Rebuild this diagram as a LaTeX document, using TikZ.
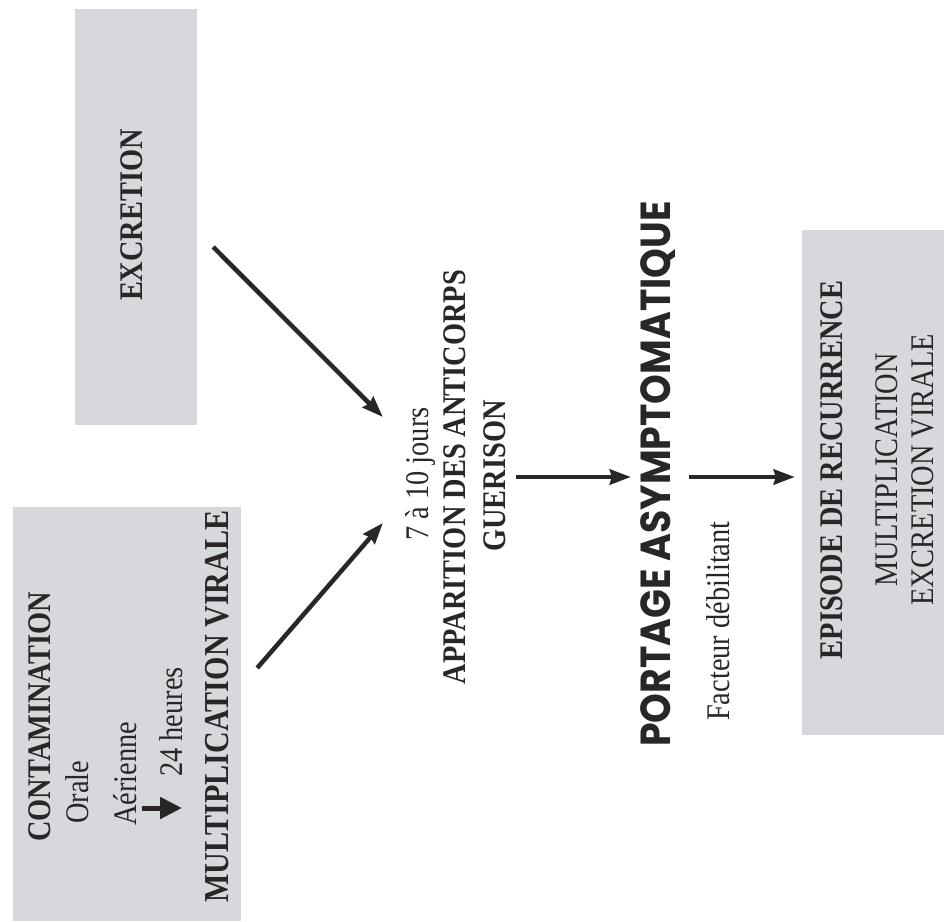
\documentclass[tikz,border=0pt]{standalone}
\usepackage{fontspec}
\usepackage{tikz}
\usetikzlibrary{arrows.meta, calc}

\newfontfamily\narrowfont[FakeStretch=0.86]{Liberation Serif}
\newfontfamily\heavyfont[FakeStretch=0.9]{Poppins}
\definecolor{boxgray}{RGB}{214,216,219}
\definecolor{inkgray}{RGB}{40,38,40}

\begin{document}
\begin{tikzpicture}
  [
    x = 1pt, y = -1pt,  % pixel grid, y down
    every node/.style = {inner sep = 0pt, text = inkgray},
    shade box/.style = {fill = boxgray, draw = none},
    vtext/.style = {rotate = 90, font = \narrowfont\fontsize{33}{38}\selectfont},
    vbold/.style = {vtext, font = \narrowfont\bfseries\fontsize{33}{38}\selectfont},
    flow/.style = {draw = inkgray, line width = 4.5pt,
                   -{Stealth[length = 21pt, width = 15pt, inset = 2pt]}}
  ]
  \useasboundingbox (0,0) rectangle (947,921);

  % grey boxes
  \node [shade box, minimum width = 122pt, minimum height = 416pt] (excr) at (136,217) {};
  \node [shade box, minimum width = 228pt, minimum height = 414pt] (cont) at (127,714) {};
  \node [shade box, minimum width = 142pt, minimum height = 505pt] (rec) at (873,482.5) {};

  % contamination box
  \node [vbold, anchor = base west] (contam) at (50,842) {CONTAMINATION};
  \node [vtext, anchor = base west] (orale) at (88,824) {Orale};
  \node [vtext, anchor = base west] (aer) at (136,826) {Aérienne};
  \node [vtext, anchor = base west] (hrs) at (182,777) {24 heures};
  \node [vbold, anchor = base west, font = \narrowfont\bfseries\fontsize{35}{40}\selectfont]
    (multv) at (228,903) {MULTIPLICATION VIRALE};
  \draw [draw = inkgray, line width = 5pt, -{Stealth[length = 22pt, width = 21pt, inset = 0pt]}]
    ([shift = {(6,-18)}]aer.base west) -- ([shift = {(0,31)}]hrs.base west);

  \node [vbold] (excrlbl) at (132,215) {EXCRETION};

  % centre
  \node [vtext, anchor = base] (jours) at (428,474) {7 à 10 jours};
  \node [vbold, anchor = base] (appar) at (465,477) {APPARITION DES ANTICORPS};
  \node [vbold, anchor = base] (guer) at (505,476) {GUERISON};

  \node [rotate = 90, anchor = base, font = \heavyfont\bfseries\fontsize{42}{48}\selectfont]
    (port) at (670,474) {PORTAGE ASYMPTOMATIQUE};
  \node [vtext, anchor = base west] (fact) at (729,721) {Facteur débilitant};

  % recurrence box
  \node [vbold, anchor = base] (epis) at (842,470) {EPISODE DE RECURRENCE};
  \node [vtext, anchor = base] (mult) at (897,470) {MULTIPLICATION};
  \node [vtext, anchor = base] (excv) at (933,470) {EXCRETION VIRALE};

  % arrows
  \draw [flow] ([shift = {(16,30)}]excr.east) -- ([shift = {(-22,-57)}]jours.north);
  \draw [flow] ([shift = {(16,-46)}]cont.east) -- ([shift = {(-22,49)}]jours.north);
  \draw [flow] ([shift = {(10,1)}]guer.south) -- ([shift = {(-9,1)}]guer.south -| port.north);
  \draw [flow] ([shift = {(14,3)}]port.south) -- ([shift = {(-7,3)}]port.south -| rec.west);
\end{tikzpicture}
\end{document}
